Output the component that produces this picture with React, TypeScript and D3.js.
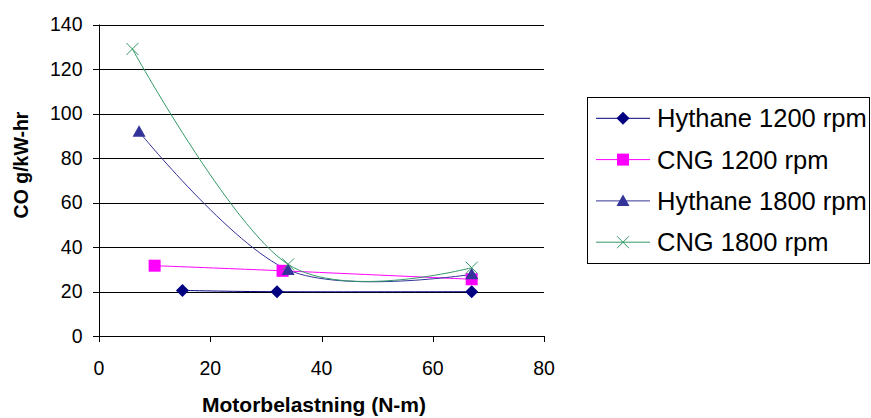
import React from "react";
import * as d3 from "d3";

const seriesNames = ["Hythane 1200 rpm", "CNG 1200 rpm", "Hythane 1800 rpm", "CNG 1800 rpm"];
const hythane1200X = [15, 32, 67];
const hythane1200Y = [20.5, 19.9, 19.9];
const cng1200X = [10, 33, 67];
const cng1200Y = [31.6, 29.3, 25.5];
const hythane1800X = [7.2, 34, 67];
const hythane1800Y = [91.8, 29.7, 27.7];
const cng1800X = [6, 34, 67];
const cng1800Y = [129, 32.2, 30.7];
const xTicks = [0, 20, 40, 60, 80];
const yTicks = [0, 20, 40, 60, 80, 100, 120, 140];

const colors = ["#000080", "#FF00FF", "#333399", "#339966"];
const markers = ["diamond", "square", "triangle", "x"];

const FONT = "'Liberation Sans', Arial, sans-serif";

function Marker({ type, x, y, color }: { type: string; x: number; y: number; color: string }) {
  if (type === "diamond") {
    return <path d={`M${x},${y - 6.5}L${x + 6.5},${y}L${x},${y + 6.5}L${x - 6.5},${y}Z`} fill={color} />;
  }
  if (type === "square") {
    return <rect x={x - 6} y={y - 6} width={12} height={12} fill={color} />;
  }
  if (type === "triangle") {
    return <path d={`M${x},${y - 6.5}L${x + 6.5},${y + 5}L${x - 6.5},${y + 5}Z`} fill={color} />;
  }
  return (
    <path
      d={`M${x - 6},${y - 6}L${x + 6},${y + 6}M${x + 6},${y - 6}L${x - 6},${y + 6}`}
      stroke={color}
      strokeWidth={1}
      fill="none"
    />
  );
}

export default function App() {
  const x = d3.scaleLinear().domain([0, 80]).range([99, 544]);
  const y = d3.scaleLinear().domain([0, 140]).range([336, 24.5]);

  const series = [
    { xs: hythane1200X, ys: hythane1200Y },
    { xs: cng1200X, ys: cng1200Y },
    { xs: hythane1800X, ys: hythane1800Y },
    { xs: cng1800X, ys: cng1800Y },
  ];

  const line = d3
    .line<[number, number]>()
    .x((d) => x(d[0]))
    .y((d) => y(d[1]))
    .curve(d3.curveCardinal.tension(0));

  const legendY = [118.3, 159.6, 200.9, 242.2];

  return (
    <svg width={871} height={418} style={{ position: "absolute", left: 0, top: 0, background: "#fff" }}>
      <rect x={0} y={0} width={871} height={418} fill="#fff" />
      {/* grid lines */}
      {yTicks.filter((t) => t > 0).map((t) => (
        <line key={"g" + t} x1={99} x2={544} y1={Math.round(y(t)) + 0.5} y2={Math.round(y(t)) + 0.5} stroke="#000" strokeWidth={1} />
      ))}
      {/* axes */}
      <line x1={99.5} x2={99.5} y1={y(140)} y2={336.5} stroke="#000" strokeWidth={1} />
      <line x1={99} x2={544} y1={336.5} y2={336.5} stroke="#000" strokeWidth={1} />
      {yTicks.map((t) => (
        <g key={"yt" + t}>
          <line x1={93} x2={99} y1={Math.round(y(t)) + 0.5} y2={Math.round(y(t)) + 0.5} stroke="#000" />
          <text x={82.5} y={y(t)} dy="0.35em" textAnchor="end" fontFamily={FONT} fontSize={19.5} fill="#000">
            {t}
          </text>
        </g>
      ))}
      {xTicks.map((t) => (
        <g key={"xt" + t}>
          <line x1={Math.round(x(t)) + 0.5} x2={Math.round(x(t)) + 0.5} y1={336} y2={342} stroke="#000" />
          <text x={x(t)} y={375} textAnchor="middle" fontFamily={FONT} fontSize={19.5} fill="#000">
            {t}
          </text>
        </g>
      ))}
      {/* series lines */}
      {series.map((s, i) => (
        <path
          key={"l" + i}
          d={line(s.xs.map((v, j) => [v, s.ys[j]] as [number, number])) || ""}
          fill="none"
          stroke={colors[i]}
          strokeWidth={1}
        />
      ))}
      {/* markers */}
      {series.map((s, i) =>
        s.xs.map((v, j) => <Marker key={"m" + i + "-" + j} type={markers[i]} x={x(v)} y={y(s.ys[j])} color={colors[i]} />)
      )}
      {/* axis titles */}
      <text x={314} y={412} textAnchor="middle" fontFamily={FONT} fontWeight="bold" fontSize={21} fill="#000">
        Motorbelastning (N-m)
      </text>
      <text
        transform={`translate(27.5,165) rotate(-90)`}
        textAnchor="middle"
        fontFamily={FONT}
        fontWeight="bold"
        fontSize={19.5}
        fill="#000"
      >
        CO g/kW-hr
      </text>
      {/* legend */}
      <rect x={587.5} y={97.5} width={282} height={166} fill="#fff" stroke="#000" strokeWidth={1} />
      {seriesNames.map((name, i) => (
        <g key={"lg" + i}>
          <line x1={596} x2={650} y1={legendY[i]} y2={legendY[i]} stroke={colors[i]} strokeWidth={1} />
          <Marker type={markers[i]} x={623} y={legendY[i]} color={colors[i]} />
          <text x={657} y={legendY[i]} dy="0.35em" fontFamily={FONT} fontSize={25.5} fill="#000">
            {name}
          </text>
        </g>
      ))}
    </svg>
  );
}
